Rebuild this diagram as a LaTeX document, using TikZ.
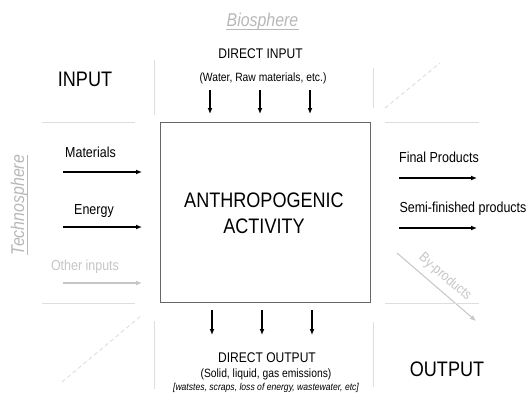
\documentclass[tikz,border=0pt]{standalone}
\usepackage{fontspec}
\setmainfont[FakeStretch=0.86]{Liberation Sans}
\usetikzlibrary{arrows.meta}
\definecolor{sphere}{HTML}{B8B8B8}
\definecolor{faint}{HTML}{DEDEDE}
\definecolor{soft}{HTML}{C6C6C6}
\definecolor{boxline}{HTML}{666666}
\begin{document}
\begin{tikzpicture}[x=1pt,y=-1pt,
  txt/.style={inner sep=0pt, anchor=base},
  big/.style={txt, font=\fontsize{21}{24}\selectfont},
  mid/.style={txt, font=\fontsize{14.5}{16}\selectfont},
  small/.style={txt, font=\fontsize{12}{14}\selectfont},
  spheretxt/.style={txt, text=sphere, font=\fontsize{18.5}{20}\selectfont\itshape},
  flow/.style={line width=1.3pt, -{Latex[length=6pt,width=5pt]}},
  softflow/.style={flow, soft},
  guide/.style={faint, line width=0.9pt},
  guidedash/.style={faint, line width=0.9pt, dash pattern=on 4pt off 3pt}]
\useasboundingbox (0,0) rectangle (528,394);
\fill[white] (0,0) rectangle (528,394);

% central box
\node[draw=boxline, line width=0.9pt, minimum width=210pt, minimum height=180pt,
      inner sep=0pt] (act) at (265,212) {};
\node[big] (act1) at (264,207) {ANTHROPOGENIC};
\node[big] (act2) at (264,233) {ACTIVITY};

% sphere labels
\node[spheretxt] (bio) at (262.5,26) {Biosphere};
\draw[sphere, line width=0.8pt] ([yshift=-3pt]bio.base west) -- ([yshift=-3pt]bio.base east);
\node[spheretxt, rotate=90] (tech) at (24,205) {Technosphere};
\draw[sphere, line width=0.8pt] ([xshift=3pt]tech.base west) -- ([xshift=3pt]tech.base east);

% corner labels
\node[big] (in) at (85,86) {INPUT};
\node[big] (out) at (447,376) {OUTPUT};

% direct input
\node[mid, font=\fontsize{14}{16}\selectfont] (di) at (260.5,58) {DIRECT INPUT};
\node[small] (dis) at (263,81) {(Water, Raw materials, etc.)};
\foreach \i/\x in {1/210,2/260,3/310}{
  \coordinate (dia\i) at (\x,90);
  \coordinate (dib\i) at (\x,114);
  \draw[flow] (dia\i) -- (dib\i);
}

% direct output
\foreach \i/\x in {1/212,2/262,3/312}{
  \coordinate (doa\i) at (\x,310);
  \coordinate (dob\i) at (\x,335);
  \draw[flow] (doa\i) -- (dob\i);
}
\node[mid, font=\fontsize{14}{16}\selectfont] (do) at (267,362) {DIRECT OUTPUT};
\node[small] (dos) at (266,377) {(Solid, liquid, gas emissions)};
\node[txt, font=\fontsize{10}{12}\selectfont\itshape] (dow) at (266,390) {[watstes, scraps, loss of energy, wastewater, etc]};

% inputs
\node[mid] (mat) at (90.5,157) {Materials};
\coordinate (mata) at (63,172); \coordinate (matb) at (142,172);
\draw[flow] (mata) -- (matb);
\node[mid] (ene) at (94,214) {Energy};
\coordinate (enea) at (63,227); \coordinate (eneb) at (142,227);
\draw[flow] (enea) -- (eneb);
\node[mid, text=soft] (oth) at (85,270) {Other inputs};
\coordinate (otha) at (63,283); \coordinate (othb) at (142,283);
\draw[softflow] (otha) -- (othb);

% outputs
\node[mid] (fin) at (439,162) {Final Products};
\coordinate (fina) at (399,178); \coordinate (finb) at (477,178);
\draw[flow] (fina) -- (finb);
\node[mid] (semi) at (463,212) {Semi-finished products};
\coordinate (semia) at (399,228); \coordinate (semib) at (477,228);
\draw[flow] (semia) -- (semib);
\coordinate (bya) at (397,253); \coordinate (byb) at (476,321);
\draw[softflow, line width=1pt] (bya) -- node[pos=0.5, sloped, above=6pt, inner sep=0pt, text=soft,
   font=\fontsize{14}{15}\selectfont] (byl) {By-products} (byb);

% guide lines
\coordinate (v1a) at (154,60);  \coordinate (v1b) at (154,115);
\coordinate (h1a) at (42,122);  \coordinate (h1b) at (135,122);
\coordinate (v2a) at (373,68);  \coordinate (v2b) at (373,108);
\coordinate (h2a) at (385,122); \coordinate (h2b) at (479,122);
\coordinate (d1a) at (385,108); \coordinate (d1b) at (440,63);
\coordinate (h3a) at (42,303);  \coordinate (h3b) at (135,303);
\coordinate (d2a) at (62,382);  \coordinate (d2b) at (142,315);
\coordinate (v3a) at (154,321); \coordinate (v3b) at (154,389);
\coordinate (h4a) at (385,303); \coordinate (h4b) at (479,303);
\coordinate (v4a) at (373,322); \coordinate (v4b) at (373,387);
\draw[guide] (v1a) -- (v1b);
\draw[guide] (h1a) -- (h1b);
\draw[guide] (v2a) -- (v2b);
\draw[guide] (h2a) -- (h2b);
\draw[guidedash] (d1a) -- (d1b);
\draw[guide] (h3a) -- (h3b);
\draw[guidedash] (d2a) -- (d2b);
\draw[guide] (v3a) -- (v3b);
\draw[guide] (h4a) -- (h4b);
\draw[guide] (v4a) -- (v4b);
\end{tikzpicture}
\end{document}
